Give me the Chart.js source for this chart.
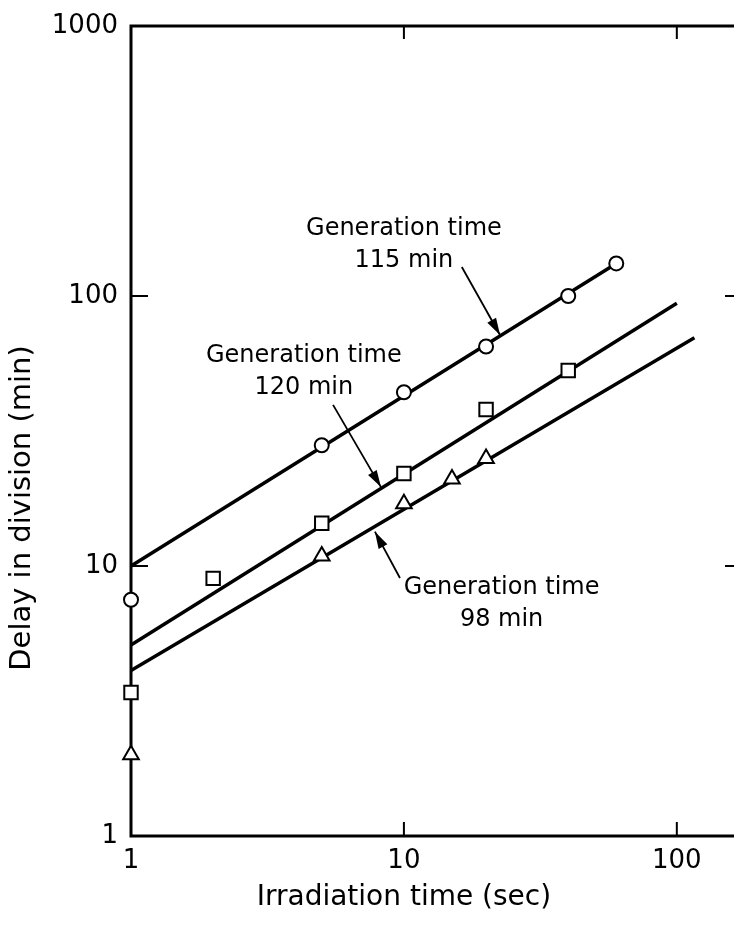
<!DOCTYPE html>
<html>
<head>
<meta charset="utf-8">
<script src="https://cdn.jsdelivr.net/npm/chart.js@4.4.0/dist/chart.umd.min.js"></script>
<style>
  body { margin: 0; background: #fff; overflow: hidden; }
  canvas { display: block; }
</style>
</head>
<body>
<canvas id="delayChart" width="734" height="926"></canvas>
<script>
const xTicks = [1, 10, 100];
const yTicks = [1, 10, 100, 1000];

// generation time 115 min (circles)
const circleTime = [1, 5, 10, 20, 40, 60];
const circleDelay = [7.5, 28, 44, 65, 100, 132];
// generation time 120 min (squares)
const squareTime = [1, 2, 5, 10, 20, 40];
const squareDelay = [3.4, 9, 14.4, 22, 38, 53];
// generation time 98 min (triangles)
const triangleTime = [1, 5, 10, 15, 20];
const triangleDelay = [2, 10.9, 17, 21, 25];

// fitted lines, end points only
const fit115Time = [1, 60];
const fit115Delay = [10, 132];
const fit120Time = [1, 100];
const fit120Delay = [5.1, 94];
const fit98Time = [1, 116];
const fit98Delay = [4.1, 70];

// labels with arrows, in data units
const noteLines = [["Generation time", "115 min"], ["Generation time", "120 min"], ["Generation time", "98 min"]];
const noteAt = [[10, 177], [4.3, 60], [22.8, 8.3]];
const arrowFrom = [[16.3, 128], [5.5, 39.5], [9.67, 9.03]];
const arrowTo = [[22.5, 71.7], [8.24, 19.6], [7.83, 13.4]];

const FONT = "'DejaVu Sans', sans-serif";

function pts(xs, ys) {
  return xs.map((v, i) => ({ x: v, y: ys[i] }));
}

function markers(xs, ys, style, r) {
  return {
    data: pts(xs, ys),
    showLine: false,
    pointStyle: style,
    pointRadius: r,
    pointBackgroundColor: "#fff",
    pointBorderColor: "#000",
    pointBorderWidth: 2,
    clip: false
  };
}

function fitLine(xs, ys) {
  return {
    data: pts(xs, ys),
    showLine: true,
    pointRadius: 0,
    borderColor: "#000",
    borderWidth: 3.5,
    clip: false
  };
}

const frame = {
  id: "frame",
  beforeDatasetsDraw(chart) {
    const { ctx, chartArea: a, scales: { x, y } } = chart;
    ctx.save();
    ctx.strokeStyle = "#000";
    ctx.lineWidth = 3;
    ctx.beginPath();
    ctx.moveTo(a.right + 10, a.top);
    ctx.lineTo(a.left, a.top);
    ctx.lineTo(a.left, a.bottom);
    ctx.lineTo(a.right + 10, a.bottom);
    ctx.stroke();

    ctx.lineWidth = 2;
    ctx.beginPath();
    xTicks.slice(1).forEach(v => {
      const px = x.getPixelForValue(v);
      ctx.moveTo(px, a.bottom);
      ctx.lineTo(px, a.bottom - 14);
      ctx.moveTo(px, a.top);
      ctx.lineTo(px, a.top + 13);
    });
    yTicks.slice(1, -1).forEach(v => {
      const py = y.getPixelForValue(v);
      ctx.moveTo(a.left, py);
      ctx.lineTo(a.left + 17, py);
      ctx.moveTo(a.right, py);
      ctx.lineTo(a.right - 9, py);
    });
    ctx.stroke();
    ctx.restore();
  },
  afterDraw(chart) {
    const { ctx, chartArea: a, scales: { x, y } } = chart;
    ctx.save();
    ctx.fillStyle = "#000";
    ctx.strokeStyle = "#000";

    // notes
    ctx.font = "24px " + FONT;
    ctx.textAlign = "center";
    ctx.textBaseline = "middle";
    noteLines.forEach((lines, i) => {
      const px = x.getPixelForValue(noteAt[i][0]);
      const py = y.getPixelForValue(noteAt[i][1]);
      lines.forEach((t, j) => ctx.fillText(t, px, py + j * 32));
    });

    // arrows
    ctx.lineWidth = 1.8;
    arrowFrom.forEach((f, i) => {
      const x0 = x.getPixelForValue(f[0]), y0 = y.getPixelForValue(f[1]);
      const x1 = x.getPixelForValue(arrowTo[i][0]), y1 = y.getPixelForValue(arrowTo[i][1]);
      const ang = Math.atan2(y1 - y0, x1 - x0);
      ctx.beginPath();
      ctx.moveTo(x0, y0);
      ctx.lineTo(x1, y1);
      ctx.stroke();
      ctx.beginPath();
      ctx.moveTo(x1, y1);
      ctx.lineTo(x1 - 17 * Math.cos(ang) + 5 * Math.sin(ang), y1 - 17 * Math.sin(ang) - 5 * Math.cos(ang));
      ctx.lineTo(x1 - 17 * Math.cos(ang) - 5 * Math.sin(ang), y1 - 17 * Math.sin(ang) + 5 * Math.cos(ang));
      ctx.closePath();
      ctx.fill();
    });

    // axis titles
    ctx.font = "28px " + FONT;
    ctx.fillText("Irradiation time (sec)", (a.left + x.getPixelForValue(100)) / 2, a.bottom + 62);
    ctx.font = "29px " + FONT;
    ctx.translate(22, (a.top + a.bottom) / 2 + 77);
    ctx.rotate(-Math.PI / 2);
    ctx.fillText("Delay in division (min)", 0, 0);
    ctx.restore();
  }
};

new Chart(document.getElementById("delayChart"), {
  type: "scatter",
  data: {
    datasets: [
      markers(circleTime, circleDelay, "circle", 7),
      markers(squareTime, squareDelay, "rect", 9.5),
      markers(triangleTime, triangleDelay, "triangle", 9),
      fitLine(fit115Time, fit115Delay),
      fitLine(fit120Time, fit120Delay),
      fitLine(fit98Time, fit98Delay)
    ]
  },
  options: {
    responsive: false,
    animation: false,
    layout: { autoPadding: false, padding: { top: 26, left: 0, right: 0, bottom: 0 } },
    plugins: {
      legend: { display: false },
      tooltip: { enabled: false }
    },
    scales: {
      x: {
        type: "logarithmic",
        min: 1,
        max: 162,
        afterBuildTicks: s => { s.ticks = xTicks.map(v => ({ value: v })); },
        afterFit: s => {
          s.height = 90;
          s.paddingLeft = 0;
          s.paddingRight = 0;
        },
        grid: { display: false, drawTicks: false },
        border: { display: false },
        ticks: {
          color: "#000",
          font: { family: FONT, size: 26 },
          padding: 10,
          maxRotation: 0,
          autoSkip: false,
          callback: v => String(v)
        }
      },
      y: {
        type: "logarithmic",
        min: 1,
        max: 1000,
        afterBuildTicks: s => { s.ticks = yTicks.map(v => ({ value: v })); },
        afterFit: s => {
          s.width = 131;
          s.paddingTop = 0;
          s.paddingBottom = 0;
        },
        grid: { display: false, drawTicks: false },
        border: { display: false },
        ticks: {
          color: "#000",
          font: { family: FONT, size: 26 },
          padding: 13,
          autoSkip: false,
          callback: v => String(v)
        }
      }
    }
  },
  plugins: [frame]
});
</script>
</body>
</html>
